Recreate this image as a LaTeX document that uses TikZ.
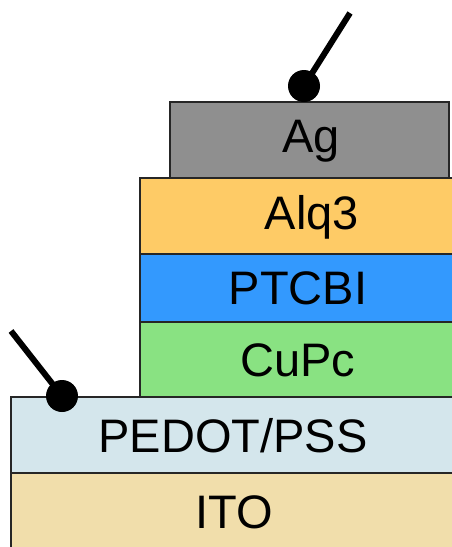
\documentclass[tikz,border=0pt]{standalone}
\usepackage{fontspec}
\setmainfont{Liberation Sans}
\definecolor{agc}{HTML}{8F8F8F}
\definecolor{alqc}{HTML}{FECB66}
\definecolor{ptc}{HTML}{3399FE}
\definecolor{cuc}{HTML}{89E282}
\definecolor{pedc}{HTML}{D4E6EC}
\definecolor{itoc}{HTML}{F1DEAB}
\begin{document}
\begin{tikzpicture}[x=1pt,y=-1pt,
  layer/.style={draw=black!85,line width=1.5pt,inner sep=0pt,outer sep=0pt},
  lbl/.style={font=\fontsize{47}{47}\selectfont,inner sep=0pt,anchor=center},
  contact/.style={circle,fill=black,inner sep=0pt,minimum size=32pt},
  wire/.style={line width=6pt}]
\useasboundingbox (0,0) rectangle (452,547);
\path[layer,fill=itoc] (11,473) rectangle (456,551);
\path[layer,fill=pedc] (11,397) rectangle (456,473);
\path[layer,fill=cuc] (140,322) rectangle (456,397);
\path[layer,fill=ptc] (140,254) rectangle (456,322);
\path[layer,fill=alqc] (140,178) rectangle (456,254);
\path[layer,fill=agc] (170,102) rectangle (449,178);
\node[lbl] (ag) at (311,141) {Ag};
\node[lbl] (alq) at (312,217) {Alq3};
\node[lbl] (ptcbi) at (298,288) {PTCBI};
\node[lbl] (cupc) at (298,360) {CuPc};
\node[lbl] (pedot) at (233,436) {PEDOT/PSS};
\node[lbl] (ito) at (234,512) {ITO};
\node[contact] (c1) at (304,86) {};
\node[contact] (c2) at (62,396) {};
\coordinate (w1) at (350,13);
\coordinate (w2) at (11,331);
\draw[wire] (c1.center) -- (w1);
\draw[wire] (c2.center) -- (w2);
\end{tikzpicture}
\end{document}
